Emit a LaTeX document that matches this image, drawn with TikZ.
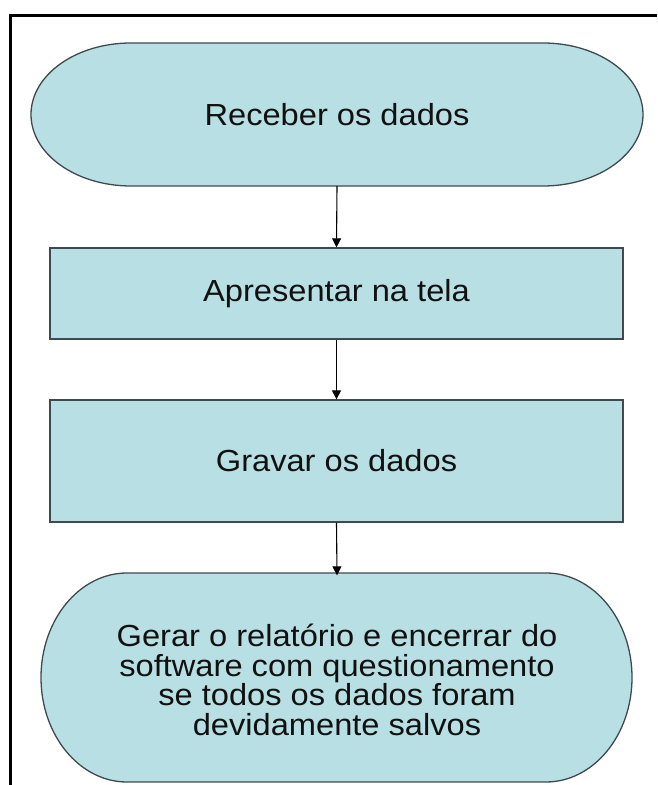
\documentclass[tikz,border=0pt]{standalone}
\usepackage{fontspec}
\setmainfont{Liberation Sans}[FakeStretch=1.07]
\usetikzlibrary{arrows.meta,positioning}
\definecolor{flowFill}{HTML}{B8DFE3}
\definecolor{flowLine}{HTML}{3F4A4F}
\definecolor{flowInk}{HTML}{111111}
\tikzset{
  every picture/.style={font=\fontsize{30.5}{29.5}\selectfont, text=flowInk},
  flow shape/.style={draw=flowLine, fill=flowFill, line width=1.3pt},
  flow box/.style={flow shape, minimum width=573pt, align=center, inner sep=0pt},
  flow text/.style={align=center, inner sep=0pt},
  flow arrow/.style={-{Triangle[length=9pt,width=9pt]}, draw=black, line width=1.1pt},
  frame line/.style={draw=black, line width=3pt}
}
\begin{document}
\begin{tikzpicture}[x=1pt,y=1pt]
  \useasboundingbox (0,0) rectangle (657,785);
  \draw[frame line] (10.5,0) -- (10.5,769) -- (657,769);
  % terminais
  \draw[flow shape] (131,742) -- (543,742)
    arc[start angle=90,end angle=-90,x radius=100,y radius=71.5]
    -- (131,599) arc[start angle=270,end angle=90,x radius=100,y radius=71.5] -- cycle;
  \draw[flow shape] (127,212) -- (546,212)
    arc[start angle=90,end angle=-90,x radius=86,y radius=104.5]
    -- (127,3) arc[start angle=270,end angle=90,x radius=86,y radius=104.5] -- cycle;
  \node[flow text, minimum width=612pt, minimum height=143pt] (receber) at (337,670.5) {Receber os dados};
  \node[flow box, minimum height=91pt] (apresentar) at (336.5,491.5) {Apresentar na tela};
  \node[flow box, minimum height=122pt] (gravar) at (336.5,324) {Gravar os dados};
  \node[flow text, minimum width=591pt, minimum height=209pt] (gerar) at (337,105)
    {Gerar o relatório e encerrar do\\software com questionamento\\se todos os dados foram\\devidamente salvos};
  \draw[flow arrow] (receber.south) -- (apresentar.north);
  \draw[flow arrow] (apresentar.south) -- (gravar.north);
  \draw[flow arrow] (gravar.south) -- (gerar.north);
\end{tikzpicture}
\end{document}
